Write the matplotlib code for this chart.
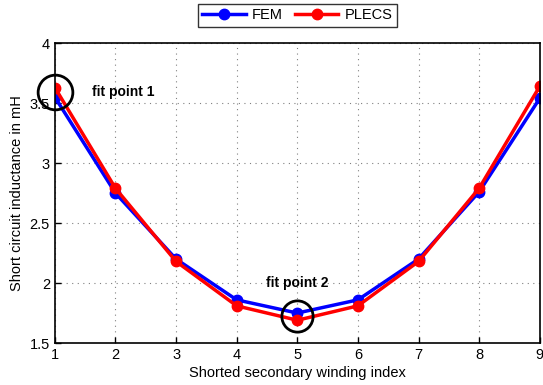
import numpy as np
import matplotlib
matplotlib.use("Agg")
import matplotlib.pyplot as plt

plt.rcParams["font.family"] = ["Liberation Sans", "DejaVu Sans"]

winding = [1, 2, 3, 4, 5, 6, 7, 8, 9]
fem = [3.55, 2.75, 2.20, 1.86, 1.75, 1.86, 2.20, 2.76, 3.54]
plecs = [3.63, 2.79, 2.18, 1.81, 1.69, 1.81, 2.18, 2.79, 3.64]

fig = plt.figure(figsize=(5.43, 3.85), dpi=100)
ax = fig.add_axes([0.101, 0.109, 0.893, 0.779])

ax.plot(winding, fem, "-o", color="blue", lw=2.5, ms=7.5, label="FEM")
ax.plot(winding, plecs, "-o", color="red", lw=2.5, ms=7.5, label="PLECS")

# fit point markers
ax.plot(winding[0], 3.59, "o", ms=25, mfc="none", mec="black", mew=2, clip_on=False, zorder=5)
ax.plot(winding[4], 1.725, "o", ms=22.5, mfc="none", mec="black", mew=2, zorder=5)
ax.text(1.61, 3.59, "fit point 1", fontsize=10, fontweight="bold", va="center")
ax.text(5, 2.0, "fit point 2", fontsize=10, fontweight="bold", ha="center", va="center")

ax.set_xlim(1, 9)
ax.set_ylim(1.5, 4)
ax.set_xticks(winding)
ax.set_yticks([1.5, 2, 2.5, 3, 3.5, 4])
ax.set_yticklabels(["1.5", "2", "2.5", "3", "3.5", "4"])
ax.tick_params(direction="in", labelsize=10.5, length=4, width=1)
ax.grid(True, linestyle=(0, (1, 4)), color="gray", lw=0.8)
for s in ax.spines.values():
    s.set_linewidth(1.2)
ax.set_xlabel("Shorted secondary winding index", fontsize=10.5, labelpad=3)
ax.set_ylabel("Short circuit inductance in mH", fontsize=10.5, labelpad=4)

leg = ax.legend(loc="lower center", bbox_to_anchor=(0.5, 1.03), ncol=2, fontsize=10.5,
                frameon=True, fancybox=False, edgecolor="black", handlelength=3,
                borderpad=0.3, columnspacing=0.8, handletextpad=0.4)
leg.get_frame().set_linewidth(1)

fig.savefig("out.png", dpi=100)
